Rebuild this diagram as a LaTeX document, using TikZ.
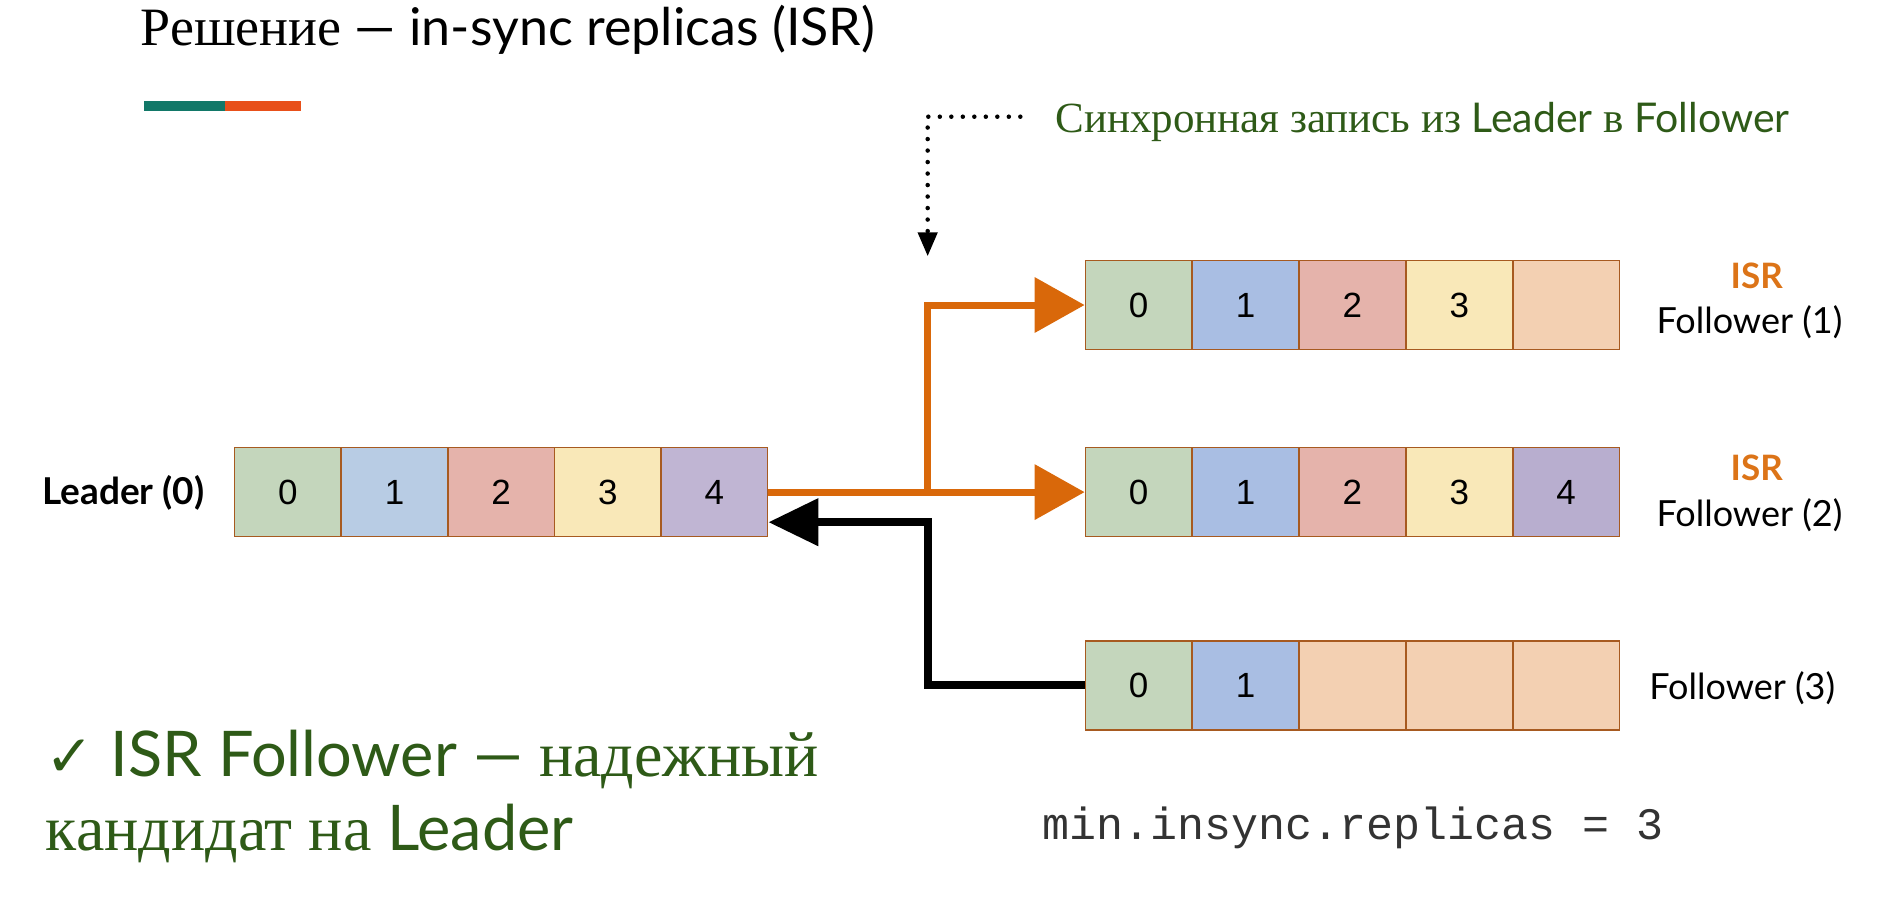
\documentclass[tikz,border=0pt]{standalone}
\usepackage{fontspec}
\setmainfont{Lato}
\newfontfamily\latofont{Lato}
\newfontfamily\latobold{Lato Bold}
\newfontfamily\rusfont{Liberation Serif}
\newfontfamily\arialfont{Liberation Sans}
\newfontfamily\monofont{Liberation Mono}
\newfontfamily\symfont{DejaVu Sans}
\usetikzlibrary{arrows.meta,calc}
\definecolor{teal1}{HTML}{127868}
\definecolor{orng1}{HTML}{E8501A}
\definecolor{arr}{HTML}{D9680A}
\definecolor{isr}{HTML}{DC7418}
\definecolor{grn}{HTML}{2E5A17}
\definecolor{bord}{HTML}{A75A20}
\definecolor{cA}{HTML}{C4D6BC}
\definecolor{cB}{HTML}{B8CCE4}
\definecolor{cBf}{HTML}{A9BEE3}
\definecolor{cC}{HTML}{E5B3AB}
\definecolor{cD}{HTML}{F9E8B8}
\definecolor{cE}{HTML}{C0B5D3}
\definecolor{cEf}{HTML}{B8AECF}
\definecolor{cX}{HTML}{F3D0B2}
\tikzset{
  cell/.style={draw=bord, line width=1.6pt, minimum width=88.6*1.2032pt, minimum height=74*1.2032pt, inner sep=0pt,
    font=\arialfont\fontsize{35}{40}\selectfont},
  oarrow/.style={draw=arr, line width=7pt, -{Triangle[length=50pt,width=54pt]}},
  barrow/.style={draw=black, line width=8pt, -{Triangle[length=50pt,width=46pt]}},
  oline/.style={draw=arr, line width=7pt},
  dotarrow/.style={draw=black, line width=4.5pt, dash pattern=on 0pt off 11.5pt, line cap=round, -{Triangle[length=24pt,width=19pt]}},
  lbl/.style={font=\latofont\fontsize{36}{40}\selectfont, inner sep=0pt},
  isrlbl/.style={font=\latobold\fontsize{35}{40}\selectfont, text=isr, inner sep=0pt},
}
\begin{document}
\begin{tikzpicture}[x=1.2032pt,y=-1.2032pt]
\useasboundingbox (0,0) rectangle (1560,759);
% title
\node[anchor=base west, inner sep=0pt] (title) at (117,38)
  {\fontsize{52}{60}\selectfont{\rusfont\fontsize{54}{60}\selectfont Решение} — in-sync replicas (ISR)};
\fill[teal1] (120,84) rectangle (187,92);
\fill[orng1] (187,84) rectangle (250,92);
% cells
\foreach \i/\c/\t in {0/cA/0,1/cB/1,2/cC/2,3/cD/3,4/cE/4}
  \node[cell, fill=\c] (L\i) at (239.3+88.6*\i,409) {\t};
\foreach \i/\c/\t in {0/cA/0,1/cBf/1,2/cC/2,3/cD/3,4/cX/{}}
  \node[cell, fill=\c] (A\i) at (946.4+88.8*\i,253.5) {\t};
\foreach \i/\c/\t in {0/cA/0,1/cBf/1,2/cC/2,3/cD/3,4/cEf/4}
  \node[cell, fill=\c] (B\i) at (946.4+88.8*\i,409) {\t};
\foreach \i/\c/\t in {0/cA/0,1/cBf/1,2/cX/{},3/cX/{},4/cX/{}}
  \node[cell, fill=\c] (C\i) at (946.4+88.8*\i,569.5) {\t};
% labels
\node[font=\latobold\fontsize{37}{40}\selectfont, anchor=east, inner sep=0pt] (lead) at (170,410) {Leader (0)};
\node[isrlbl] (isr1) at (1460,229) {ISR};
\node[lbl] (f1) at (1454,268) {Follower (1)};
\node[isrlbl] (isr2) at (1460,389) {ISR};
\node[lbl] (f2) at (1454,428) {Follower (2)};
\node[lbl] (f3) at (1448,572) {Follower (3)};
% sync text
\node[anchor=base west, inner sep=0pt, text=grn] (sync) at (877,110)
  {\fontsize{41}{48}\selectfont{\rusfont\fontsize{43}{48}\selectfont Синхронная запись из} Leader {\rusfont\fontsize{43}{48}\selectfont в} Follower};
\coordinate (d0) at (848,97);
\coordinate (d1) at (771,213);
\draw[dotarrow] (d0) -| (d1);
% arrows
\coordinate (J) at (771,409);
\draw[oarrow] (L4.east) -- (B0.west);
\draw[oline, line cap=butt] (J) |- ($(A0.west)+(-40,0)$);
\draw[oarrow] ($(A0.west)+(-41,0)$) -- (A0.west);
\coordinate (K) at (771,434);
\coordinate (Lin) at ($(L4.east)+(0,25)$);
\draw[barrow, line join=miter] (C0.west) -| (K) -- (Lin);
% bottom
\node[anchor=base west, inner sep=0pt, text=grn] (b1) at (38,645)
  {\fontsize{63}{70}\selectfont{\symfont\fontsize{58}{70}\selectfont ✓} ISR Follower — {\rusfont\fontsize{64}{70}\selectfont надежный}};
\node[anchor=base west, inner sep=0pt, text=grn] (b2) at (38,707)
  {\fontsize{63}{70}\selectfont{\rusfont\fontsize{64}{70}\selectfont кандидат на} Leader};
\node[anchor=base west, inner sep=0pt, text=black!80] (mono) at (866,698)
  {\monofont\fontsize{45}{50}\selectfont min.insync.replicas = 3};
\end{tikzpicture}
\end{document}
